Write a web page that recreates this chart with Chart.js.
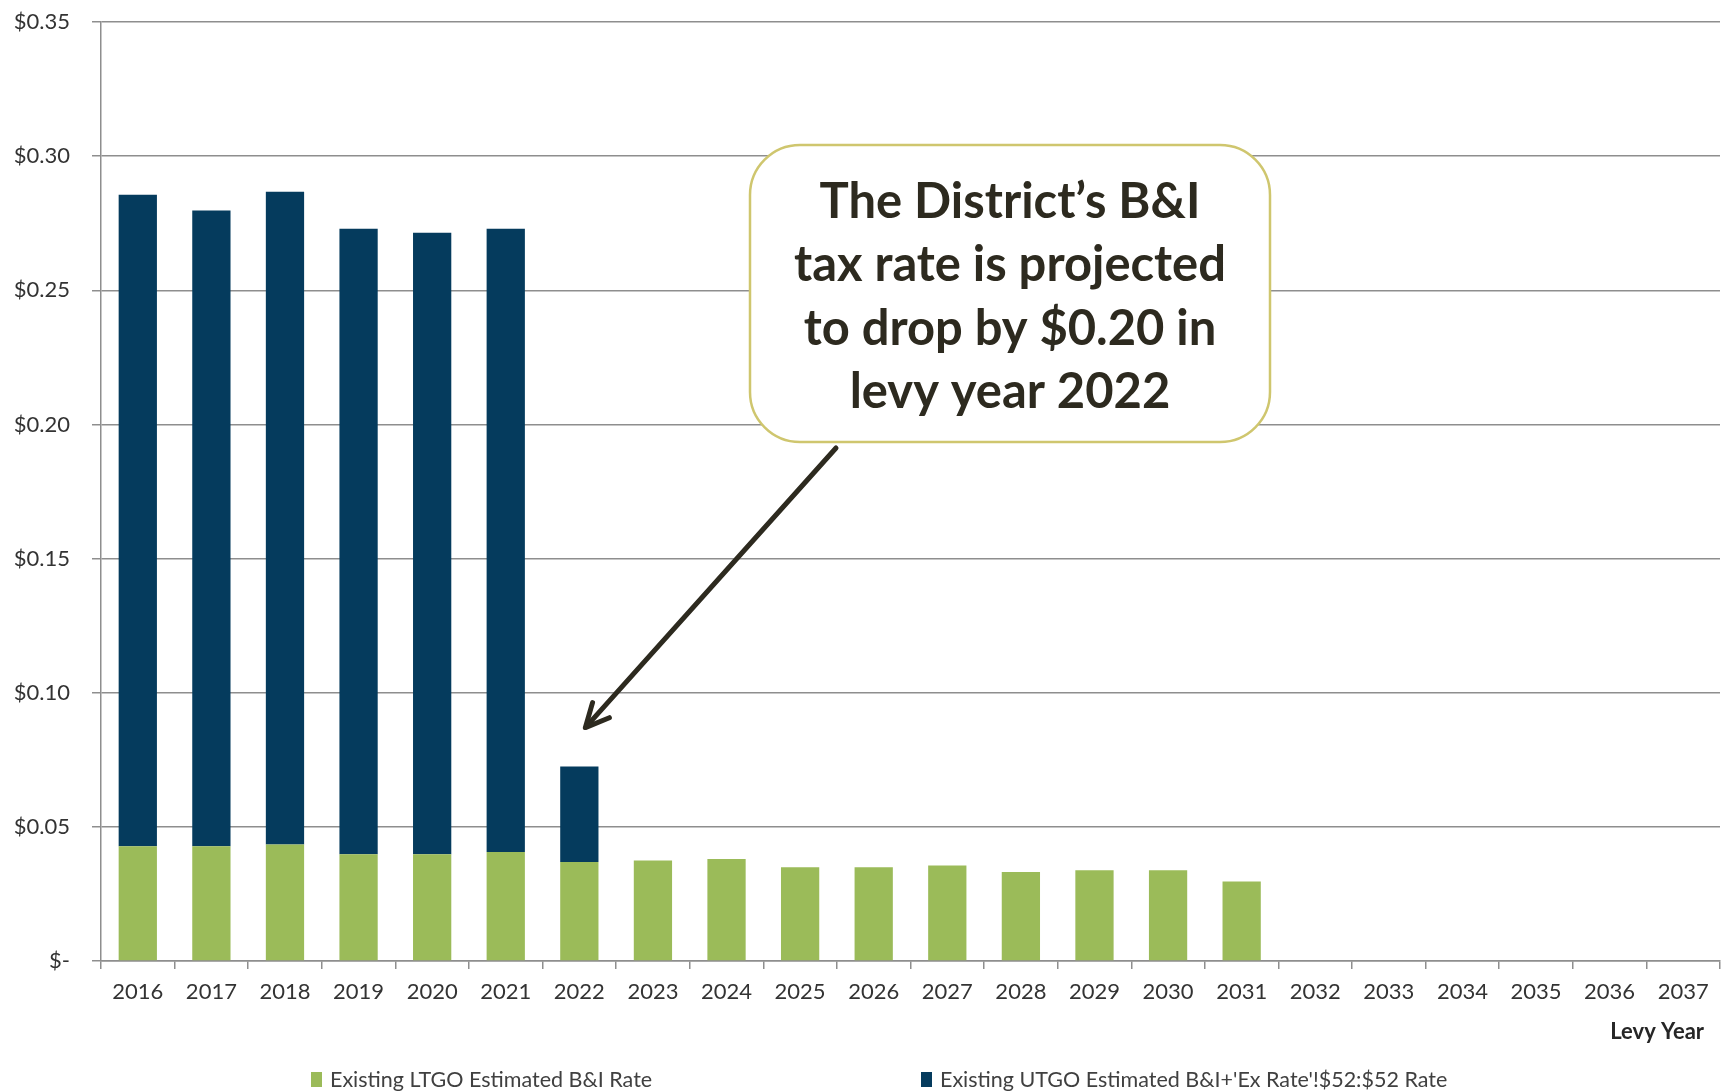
<!DOCTYPE html>
<html>
<head>
<meta charset="utf-8">
<title>B&amp;I Tax Rate by Levy Year</title>
<script src="https://cdn.jsdelivr.net/npm/chart.js@4.4.0/dist/chart.umd.min.js"></script>
<style>
  html, body { margin: 0; padding: 0; background: #fff; }
  #wrap { width: 1724px; height: 1091px; position: relative; }
</style>
</head>
<body>
<div id="wrap"><canvas id="rateChart" width="1724" height="1091"></canvas></div>
<script>
// Levy years on the x axis
const levyYears = ['2016', '2017', '2018', '2019', '2020', '2021', '2022', '2023', '2024', '2025', '2026',
                   '2027', '2028', '2029', '2030', '2031', '2032', '2033', '2034', '2035', '2036', '2037'];

// Existing LTGO estimated B&I rate (green, bottom of stack)
const ltgoRate = [0.0428, 0.0428, 0.0434, 0.0398, 0.0398, 0.0406, 0.0369, 0.0375, 0.0380, 0.0349, 0.0349,
                  0.0356, 0.0332, 0.0338, 0.0338, 0.0296, null, null, null, null, null, null];

// Existing UTGO estimated B&I rate (navy, stacked on top)
const utgoRate = [0.2428, 0.2369, 0.2433, 0.2331, 0.2316, 0.2323, 0.0356, null, null, null, null,
                  null, null, null, null, null, null, null, null, null, null, null];

const seriesLabels = ["Existing LTGO Estimated B&I Rate", "Existing UTGO Estimated B&I+'Ex Rate'!$52:$52 Rate"];
const calloutLines = ["The District\u2019s B&I", "tax rate is projected", "to drop by $0.20 in", "levy year 2022"];

const GREEN = '#9bbb59';
const NAVY = '#053b5d';
const GRID = '#8e8e8e';
const FONT = 'Lato, "Open Sans", sans-serif';

// Callout box, arrow, axis title and legend drawn on top of the chart
const extrasPlugin = {
  id: 'extras',
  afterDraw(chart) {
    const ctx = chart.ctx;
    const x = chart.scales.x, y = chart.scales.y;
    ctx.save();

    // callout box
    const bx = 750, by = 145, bw = 520, bh = 297, r = 50;
    ctx.beginPath();
    ctx.roundRect(bx, by, bw, bh, r);
    ctx.fillStyle = '#fff';
    ctx.fill();
    ctx.lineWidth = 2.5;
    ctx.strokeStyle = '#cfc66e';
    ctx.stroke();

    // fit the widest line to about 432px
    let size = 46;
    ctx.font = 'bold ' + size + 'px ' + FONT;
    const widest = Math.max(...calloutLines.map(l => ctx.measureText(l).width));
    size = size * 432 / widest;
    ctx.font = 'bold ' + size.toFixed(1) + 'px ' + FONT;
    ctx.fillStyle = '#2d2a1f';
    ctx.textAlign = 'center';
    ctx.textBaseline = 'middle';
    calloutLines.forEach((l, i) => ctx.fillText(l, bx + bw / 2, 202 + i * 63.5));

    // arrow to the 2022 bar
    const tipX = x.getPixelForValue(6) + 6;
    const tipY = y.getPixelForValue(0.087);
    const sx = 836, sy = 448;
    const ang = Math.atan2(tipY - sy, tipX - sx);
    ctx.strokeStyle = '#2d2a1f';
    ctx.lineWidth = 5;
    ctx.lineCap = 'round';
    ctx.beginPath();
    ctx.moveTo(sx, sy);
    ctx.lineTo(tipX - Math.cos(ang) * 3, tipY - Math.sin(ang) * 3);
    ctx.stroke();
    ctx.lineJoin = 'round';
    ctx.beginPath();
    ctx.moveTo(tipX - 26 * Math.cos(ang - 0.45), tipY - 26 * Math.sin(ang - 0.45));
    ctx.lineTo(tipX, tipY);
    ctx.lineTo(tipX - 26 * Math.cos(ang + 0.45), tipY - 26 * Math.sin(ang + 0.45));
    ctx.stroke();

    // axis title
    ctx.font = 'bold 22px ' + FONT;
    ctx.fillStyle = '#262626';
    ctx.textAlign = 'right';
    ctx.fillText('Levy Year', 1704, 1032);

    // legend
    ctx.font = '21.5px ' + FONT;
    ctx.textAlign = 'left';
    const items = [[311, GREEN], [921, NAVY]];
    chart.data.datasets.forEach((ds, i) => {
      const lx = items[i][0];
      ctx.fillStyle = ds.backgroundColor;
      ctx.fillRect(lx, 1072, 11, 15);
      ctx.fillStyle = '#404040';
      ctx.fillText(ds.label, lx + 19, 1080);
    });
    ctx.restore();
  }
};

new Chart(document.getElementById('rateChart').getContext('2d'), {
  type: 'bar',
  data: {
    labels: levyYears,
    datasets: [{
      label: seriesLabels[0],
      data: ltgoRate,
      backgroundColor: GREEN,
      categoryPercentage: 1,
      barPercentage: 0.52
    }, {
      label: seriesLabels[1],
      data: utgoRate,
      backgroundColor: NAVY,
      categoryPercentage: 1,
      barPercentage: 0.52
    }]
  },
  options: {
    responsive: false,
    animation: false,
    layout: { padding: { top: 22, right: 4, left: 0, bottom: 0 } },
    plugins: {
      legend: { display: false },
      title: { display: false },
      tooltip: { enabled: false }
    },
    scales: {
      x: {
        stacked: true,
        afterFit: s => { s.height = 130; },
        grid: { drawOnChartArea: false, drawTicks: true, tickLength: 8, color: GRID, lineWidth: 1.5 },
        border: { display: true, color: GRID, width: 1.5 },
        ticks: { color: '#333', font: { family: FONT, size: 22 }, padding: 10, maxRotation: 0, autoSkip: false }
      },
      y: {
        stacked: true,
        min: 0,
        max: 0.35,
        afterFit: s => { s.width = 101; s.paddingTop = 0; s.paddingBottom = 0; },
        grid: { color: GRID, lineWidth: 1.5, tickLength: 9 },
        border: { display: true, color: GRID, width: 1.5 },
        ticks: {
          stepSize: 0.05,
          padding: 22,
          color: '#333',
          font: { family: FONT, size: 22 },
          callback: v => v === 0 ? '$-' : '$' + v.toFixed(2)
        }
      }
    }
  },
  plugins: [extrasPlugin]
});
</script>
</body>
</html>
